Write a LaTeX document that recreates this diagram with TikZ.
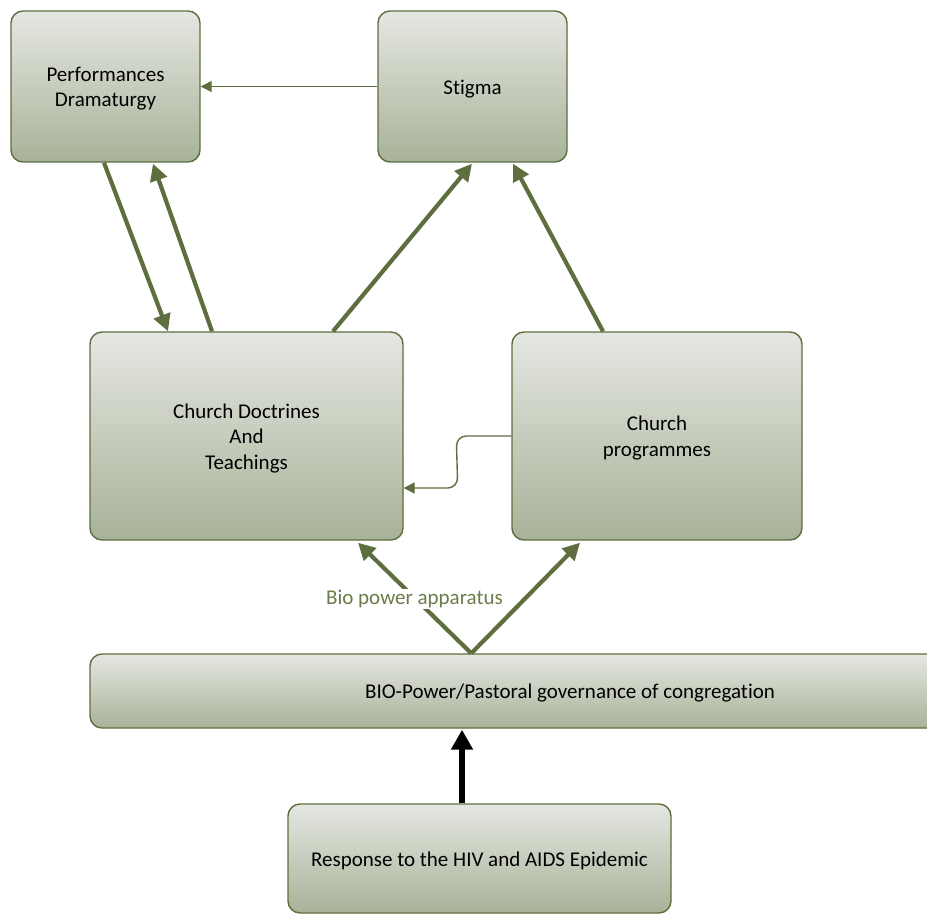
\documentclass[tikz,border=0pt]{standalone}
\usepackage{fontspec}
\setmainfont{Carlito}[Ligatures=NoCommon]
\usetikzlibrary{arrows.meta,calc}
\definecolor{olive}{HTML}{5E6E3F}
\definecolor{boxtop}{HTML}{E5E7E2}
\definecolor{boxbot}{HTML}{A8B298}
\definecolor{labelgreen}{HTML}{6A7C49}
\newcommand\lowtext[1]{\raisebox{-2.5pt}[\height][\depth]{\begin{tabular}{@{}c@{}}#1\end{tabular}}}
\tikzset{
  box/.style={draw=olive, line width=1.4pt, rounded corners=12pt, top color=boxtop, bottom color=boxbot, align=center, inner sep=0pt, font=\fontsize{21}{25.5}\selectfont},
  thick arrow/.style={draw=olive, line width=4.2pt, -{Triangle[length=17pt,width=17pt]}},
  thin arrow/.style={draw=olive, line width=1.4pt, -{Triangle[length=11pt,width=11pt]}},
  black arrow/.style={draw=black, line width=6pt, -{Triangle[length=20pt,width=21pt]}},
}
\begin{document}
\begin{tikzpicture}[x=1pt,y=-1pt]
\clip (0,0) rectangle (927,915);
\fill[white] (0,0) rectangle (927,915);
\node[box, minimum width=189pt, minimum height=151pt] (perf) at (105.5,86.5) {\lowtext{Performances\\Dramaturgy}};
\node[box, minimum width=189pt, minimum height=151pt] (stig) at (472.5,86.5) {\lowtext{Stigma}};
\node[box, minimum width=313pt, minimum height=208pt] (doc) at (246.5,436) {\lowtext{Church Doctrines\\And\\Teachings}};
\node[box, minimum width=290pt, minimum height=208pt] (prog) at (657,436) {\lowtext{Church\\programmes}};
\node[box, minimum width=960pt, minimum height=74pt] (bio) at (570,691) {\lowtext{BIO-Power/Pastoral governance of congregation}};
\node[box, minimum width=383pt, minimum height=109pt] (resp) at (479.5,858.5) {\lowtext{Response to the HIV and AIDS Epidemic}};

\draw[thin arrow] (stig.west) -- (perf.east);
\draw[thick arrow] ($(perf.south)+(-1.5,0)$) -- ($(doc.north)+(-78.5,0)$);
\draw[thick arrow] ($(doc.north)+(-34.5,0)$) -- ($(perf.south)+(47.5,1)$);
\draw[thick arrow] ($(doc.north)+(86.5,0)$) -- ($(stig.south)+(-0.5,1)$);
\draw[thick arrow] ($(prog.north)+(-54,0)$) -- ($(stig.south)+(40.5,1)$);
\draw[thin arrow, rounded corners=10pt] (prog.west) -- ($(prog.west)+(-55,0)$) -- ($(doc.east)+(54,52)$) -- ($(doc.east)+(0,52)$);
\draw[thick arrow] ($(bio.north west)+(382,0)$) -- ($(doc.south)+(111.5,2)$);
\draw[thick arrow] ($(bio.north west)+(382,0)$) -- ($(prog.south)+(-77,2)$);
\node[fill=white, inner sep=1pt, text=labelgreen, font=\fontsize{21}{25}\selectfont] (lab) at (414.5,599) {Bio power apparatus};
\draw[black arrow] ($(resp.north)+(-17.5,0)$) -- ($(bio.south)+(-108,1)$);
\end{tikzpicture}
\end{document}
